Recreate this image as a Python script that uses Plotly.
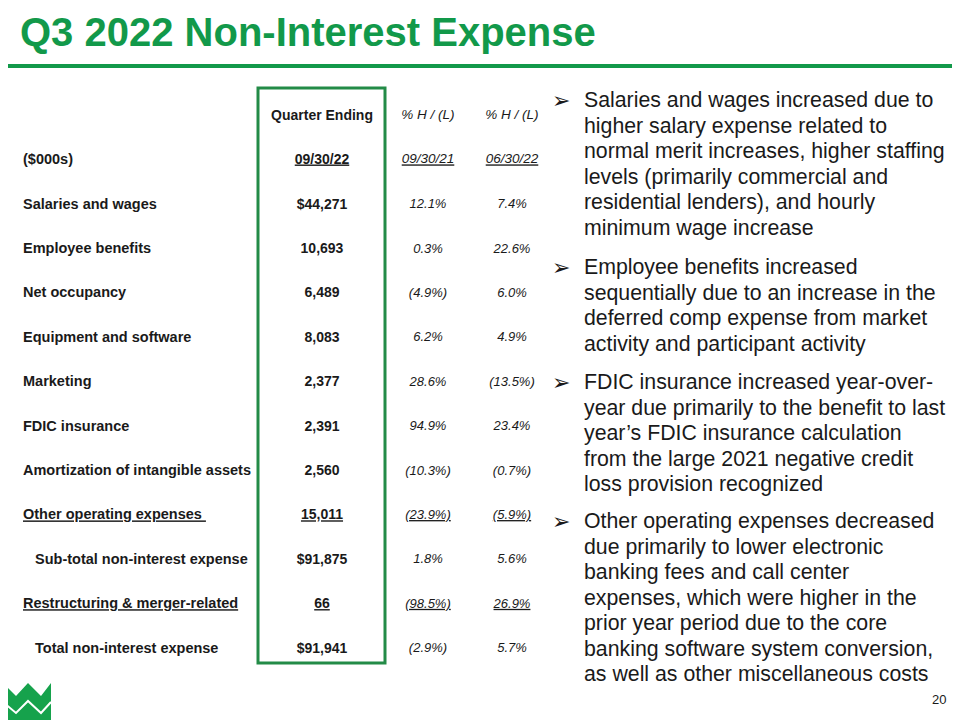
import plotly.graph_objects as go

# table data
labels = ["Salaries and wages", "Employee benefits", "Net occupancy",
          "Equipment and software", "Marketing", "FDIC insurance",
          "Amortization of intangible assets", "Other operating expenses",
          "Sub-total non-interest expense", "Restructuring & merger-related",
          "Total non-interest expense"]
q3_2022 = [44271, 10693, 6489, 8083, 2377, 2391, 2560, 15011, 91875, 66, 91941]
pct_yoy = [12.1, 0.3, -4.9, 6.2, 28.6, 94.9, -10.3, -23.9, 1.8, -98.5, -2.9]
pct_qoq = [7.4, 22.6, 6.0, 4.9, -13.5, 23.4, -0.7, -5.9, 5.6, 26.9, 5.7]
dollar_rows = ["Salaries and wages", "Sub-total non-interest expense", "Total non-interest expense"]
underlined_rows = ["Other operating expenses", "Restructuring & merger-related"]
indented_rows = ["Sub-total non-interest expense", "Total non-interest expense"]

col_headers = ["Quarter Ending", "% H / (L)", "% H / (L)"]
col_dates = ["09/30/22", "09/30/21", "06/30/22"]

bullets = [
    ["Salaries and wages increased due to", "higher salary expense related to",
     "normal merit increases, higher staffing", "levels (primarily commercial and",
     "residential lenders), and hourly", "minimum wage increase"],
    ["Employee benefits increased", "sequentially due to an increase in the",
     "deferred comp expense from market", "activity and participant activity"],
    ["FDIC insurance increased year-over-", "year due primarily to the benefit to last",
     "year\u2019s FDIC insurance calculation", "from the large 2021 negative credit",
     "loss provision recognized"],
    ["Other operating expenses decreased", "due primarily to lower electronic",
     "banking fees and call center", "expenses, which were higher in the",
     "prior year period due to the core", "banking software system conversion,",
     "as well as other miscellaneous costs"],
]

GREEN = "#12994A"
BOX_GREEN = "#238B47"
INK = "#1a1a1a"
FONT = "Liberation Sans, Arial, sans-serif"

# the page body has an 8px margin, so the axes start at 8 to keep
# data units equal to screen pixels
OFF = 8


def fmt_amt(v, lab):
    s = "{:,}".format(v)
    return "$" + s if lab in dollar_rows else s


def fmt_pct(v):
    return "({:.1f}%)".format(-v) if v < 0 else "{:.1f}%".format(v)


def ul(s, lab):
    return "<u>" + s + "</u>" if lab in underlined_rows else s


row_y0, row_step = 205, 44.4
row_y = [row_y0 + i * row_step for i in range(len(labels))]
col_x = [322, 428, 512]
hdr_y, date_y = 116, 160

fig = go.Figure()

# row labels
lab_txt = []
for lab in labels:
    t = lab + "\u00a0" if lab == "Other operating expenses" else lab
    lab_txt.append("<b>" + ul(t, lab) + "</b>")
lab_x = [35 if lab in indented_rows else 23 for lab in labels]
fig.add_trace(go.Scatter(x=lab_x + [23], y=row_y + [date_y], mode="text",
                         text=lab_txt + ["<b>($000s)</b>"],
                         textposition="middle right",
                         textfont=dict(family=FONT, size=14.5, color=INK),
                         hoverinfo="skip", showlegend=False))

# value columns
fig.add_trace(go.Scatter(x=[col_x[0]] * len(labels), y=row_y, mode="text",
                         text=["<b>" + ul(fmt_amt(v, lab), lab) + "</b>" for v, lab in zip(q3_2022, labels)],
                         textposition="middle center",
                         textfont=dict(family=FONT, size=14, color=INK),
                         hoverinfo="skip", showlegend=False))
for cx, vals in zip(col_x[1:], [pct_yoy, pct_qoq]):
    fig.add_trace(go.Scatter(x=[cx] * len(labels), y=row_y, mode="text",
                             text=["<i>" + ul(fmt_pct(v), lab) + "</i>" for v, lab in zip(vals, labels)],
                             textposition="middle center",
                             textfont=dict(family=FONT, size=13, color=INK),
                             hoverinfo="skip", showlegend=False))

# column headers
fig.add_trace(go.Scatter(x=col_x[:1] * 2, y=[hdr_y, date_y], mode="text",
                         text=["<b>" + col_headers[0] + "</b>", "<b><u>" + col_dates[0] + "</u></b>"],
                         textposition="middle center",
                         textfont=dict(family=FONT, size=14, color=INK),
                         hoverinfo="skip", showlegend=False))
fig.add_trace(go.Scatter(x=col_x[1:] * 2, y=[hdr_y] * 2 + [date_y] * 2, mode="text",
                         text=["<i>" + h + "</i>" for h in col_headers[1:]] +
                              ["<i><u>" + d + "</u></i>" for d in col_dates[1:]],
                         textposition="middle center",
                         textfont=dict(family=FONT, size=13.5, color=INK),
                         hoverinfo="skip", showlegend=False))

# bullets
line_step = 25.5
bullet_y = [100, 267, 382, 521]
for by, lines in zip(bullet_y, bullets):
    fig.add_annotation(x=550, y=by, text="\u27a2", showarrow=False, xanchor="left",
                       yanchor="middle", font=dict(family="DejaVu Sans", size=22, color=INK))
    for j, ln in enumerate(lines):
        fig.add_annotation(x=582, y=by + j * line_step, text=ln, showarrow=False,
                           xanchor="left", yanchor="middle",
                           font=dict(family=FONT, size=21.3, color=INK))

# title, rule, page number
fig.add_annotation(x=18, y=32, text="<b>Q3 2022 Non-Interest Expense</b>", showarrow=False,
                   xanchor="left", yanchor="middle",
                   font=dict(family=FONT, size=40, color=GREEN))
fig.add_shape(type="rect", x0=-20, x1=990, y0=64, y1=68, line_width=0, fillcolor=GREEN)
fig.add_annotation(x=948, y=699, text="20", showarrow=False, xanchor="right", yanchor="middle",
                   font=dict(family=FONT, size=13, color=INK))

# highlight box
fig.add_shape(type="rect", x0=258, x1=385, y0=88, y1=663,
              line=dict(color=BOX_GREEN, width=3), fillcolor="rgba(0,0,0,0)")

# logo
fig.add_shape(type="path",
              path="M 3 683 L 16 696 L 28 683 L 41 696 L 51 683 L 51 722 L 3 722 Z",
              line_width=0, fillcolor="#16A24C")
fig.add_shape(type="path", path="M 3 702 L 16 713 L 28 701 L 41 713 L 51 702",
              line=dict(color="white", width=2))

fig.update_xaxes(range=[OFF, 960 + OFF], visible=False, fixedrange=True)
fig.update_yaxes(range=[720 + OFF, OFF], visible=False, fixedrange=True)
fig.update_layout(width=960, height=720, margin=dict(l=0, r=0, t=0, b=0),
                  plot_bgcolor="white", paper_bgcolor="white", showlegend=False)

fig.write_html("out.html")
